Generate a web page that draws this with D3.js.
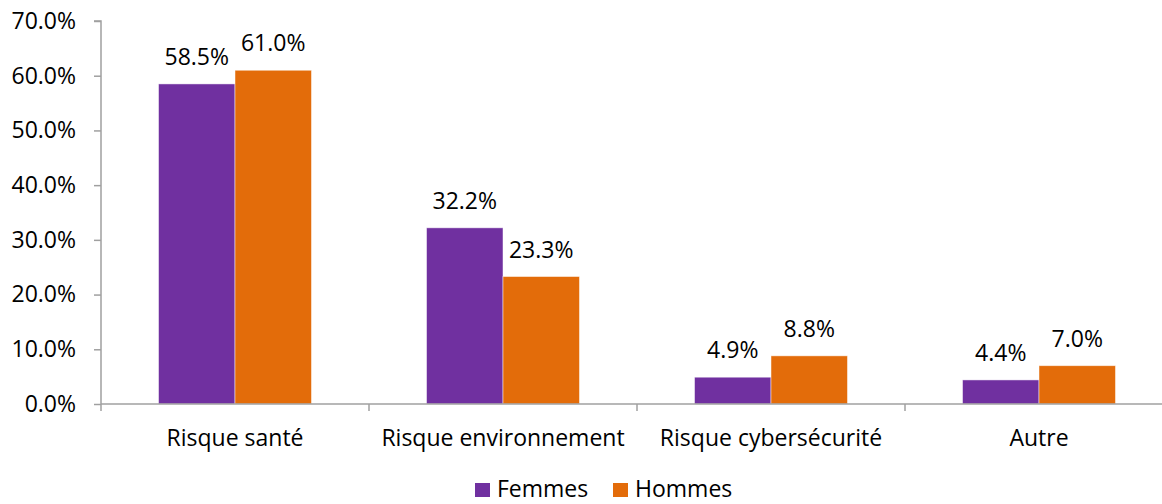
<!DOCTYPE html>
<meta charset="utf-8">
<script src="https://d3js.org/d3.v7.min.js"></script>
<style>
  body { margin: 0; background: #fff; }
  text { font-family: "Open Sans", Lato, sans-serif; fill: #000; }
</style>
<div id="chart"></div>
<script>

// data
var categories = ["Risque santé", "Risque environnement", "Risque cybersécurité", "Autre"];
var series = ["Femmes", "Hommes"];
var femmes = [58.5, 32.2, 4.9, 4.4];
var hommes = [61.0, 23.3, 8.8, 7.0];
var yTicks = [0, 10, 20, 30, 40, 50, 60, 70];
var colors = ["#7030A0", "#E36C0A"];

var width = 1162, height = 504;
var marginLeft = 101, marginTop = 21, axisY = 404;
var fontSize = "23px";

var svg = d3.select("#chart")
  .append("svg")
    .attr("width", width)
    .attr("height", height);

// scales
var x0 = d3.scaleBand()
  .domain(categories)
  .range([marginLeft, marginLeft + 4 * 268])
  .padding(0);

var x1 = d3.scaleBand()
  .domain(series)
  .range([0, x0.bandwidth()])
  .paddingInner(0)
  .paddingOuter(0.752);

var y = d3.scaleLinear()
  .domain([0, 70])
  .range([axisY, marginTop]);

// y axis
var yAxis = svg.append("g")
  .attr("transform", "translate(" + marginLeft + ",0)")
  .call(d3.axisLeft(y).tickValues(yTicks).tickSize(7).tickPadding(18)
    .tickFormat(function(d) { return d.toFixed(1) + "%"; }));
yAxis.select(".domain").attr("stroke", "#a0a0a0").attr("stroke-width", 1.5)
  .attr("d", "M-7," + y(70) + "H0V" + y(0));
yAxis.selectAll(".tick line").attr("stroke", "#a0a0a0").attr("stroke-width", 1.5);
yAxis.attr("font-family", null).attr("font-size", null);
yAxis.selectAll(".tick text")
  .style("font-size", fontSize).attr("fill", "#000");

// bars
var rows = categories.map(function(c, i) {
  return { cat: c, vals: [femmes[i], hommes[i]] };
});

var groups = svg.selectAll("g.grp")
  .data(rows)
  .enter().append("g")
    .attr("class", "grp")
    .attr("transform", function(d) { return "translate(" + x0(d.cat) + ",0)"; });

groups.selectAll("rect")
  .data(function(d) { return d.vals.map(function(v, j) { return { s: series[j], v: v, j: j }; }); })
  .enter().append("rect")
    .attr("x", function(d) { return x1(d.s); })
    .attr("y", function(d) { return y(d.v); })
    .attr("width", x1.bandwidth())
    .attr("height", function(d) { return y(0) - y(d.v); })
    .attr("fill", function(d) { return colors[d.j]; })
    .attr("stroke", "#ffffff")
    .attr("stroke-opacity", 0.6)
    .attr("stroke-width", 0.8);

groups.selectAll("text.lbl")
  .data(function(d) { return d.vals.map(function(v, j) { return { s: series[j], v: v }; }); })
  .enter().append("text")
    .attr("class", "lbl")
    .attr("x", function(d) { return x1(d.s) + x1.bandwidth() / 2; })
    .attr("y", function(d) { return y(d.v) - 19; })
    .attr("text-anchor", "middle")
    .style("font-size", fontSize)
    .text(function(d) { return d.v.toFixed(1) + "%"; });

// x axis
var xAxis = svg.append("g")
  .attr("transform", "translate(0," + axisY + ")");
xAxis.append("line")
  .attr("x1", marginLeft).attr("x2", marginLeft + 4 * 268)
  .attr("stroke", "#a0a0a0").attr("stroke-width", 1.5);
xAxis.selectAll("line.tk")
  .data(categories.concat(["end"]))
  .enter().append("line")
    .attr("class", "tk")
    .attr("x1", function(d, i) { return marginLeft + i * x0.step(); })
    .attr("x2", function(d, i) { return marginLeft + i * x0.step(); })
    .attr("y1", 0).attr("y2", 7)
    .attr("stroke", "#a0a0a0").attr("stroke-width", 1.5);
xAxis.selectAll("text")
  .data(categories)
  .enter().append("text")
    .attr("x", function(d) { return x0(d) + x0.bandwidth() / 2; })
    .attr("y", 42)
    .attr("text-anchor", "middle")
    .style("font-size", fontSize)
    .text(function(d) { return d; });

// legend
var legendX = [475, 613];
var legend = svg.selectAll("g.leg")
  .data(series)
  .enter().append("g")
    .attr("class", "leg")
    .attr("transform", function(d, i) { return "translate(" + legendX[i] + ",483)"; });
legend.append("rect")
  .attr("width", 15).attr("height", 14)
  .attr("fill", function(d, i) { return colors[i]; });
legend.append("text")
  .attr("x", 22).attr("y", 14)
  .style("font-size", fontSize)
  .text(function(d) { return d; });

</script>
